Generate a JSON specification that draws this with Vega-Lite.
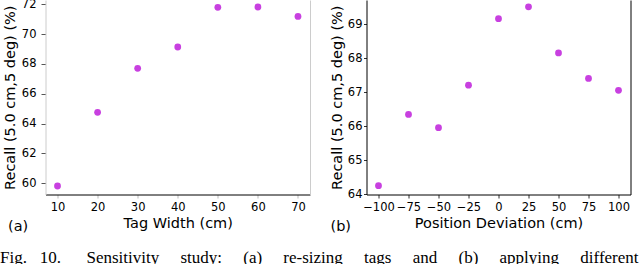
{
  "$schema": "https://vega.github.io/schema/vega-lite/v6.json",
  "autosize": {"type": "none"},
  "padding": {"left": 45.5, "top": 0, "right": 594.5, "bottom": 264},
  "background": "white",
  "title": {
    "text": "Fig.\u00a0\u00a0\u00a010.\u00a0\u00a0\u00a0\u00a0\u00a0\u00a0Sensitivity\u00a0\u00a0\u00a0\u00a0\u00a0study:\u00a0\u00a0\u00a0\u00a0\u00a0(a)\u00a0\u00a0\u00a0\u00a0\u00a0re-sizing\u00a0\u00a0\u00a0\u00a0\u00a0tags\u00a0\u00a0\u00a0\u00a0\u00a0and\u00a0\u00a0\u00a0\u00a0\u00a0(b)\u00a0\u00a0\u00a0\u00a0\u00a0applying\u00a0\u00a0\u00a0\u00a0\u00a0different",
    "orient": "bottom",
    "anchor": "start",
    "frame": "group",
    "dx": -45.5,
    "offset": 16,
    "font": "Liberation Serif",
    "fontSize": 17,
    "fontWeight": "normal",
    "color": "black"
  },
  "hconcat": [
    {
      "width": 264.5,
      "height": 194.5,
      "data": {"values": [
        {"w": 10, "r": 59.82},
        {"w": 20, "r": 64.76},
        {"w": 30, "r": 67.71},
        {"w": 40, "r": 69.14},
        {"w": 50, "r": 71.80},
        {"w": 60, "r": 71.82},
        {"w": 70, "r": 71.19}
      ]},
      "title": {"text": "(a)", "orient": "bottom", "anchor": "start", "frame": "group", "dx": -37.5, "offset": -10, "font": "DejaVu Sans", "fontSize": 14.5, "fontWeight": "normal", "color": "black"},
      "layer": [
        {
          "mark": {"type": "point", "filled": true, "size": 46, "color": "#c840e0", "opacity": 1},
          "encoding": {
            "x": {"field": "w", "type": "quantitative", "scale": {"domain": [7, 73], "nice": false, "zero": false},
              "axis": {"values": [10, 20, 30, 40, 50, 60, 70], "title": "Tag Width (cm)", "tickSize": 3.5, "tickColor": "#bbbbbb", "labelPadding": 3, "titlePadding": 4, "domainColor": "black"}},
            "y": {"field": "r", "type": "quantitative", "scale": {"domain": [59.25, 72.29], "nice": false, "zero": false},
              "axis": {"values": [60, 62, 64, 66, 68, 70, 72], "title": "Recall (5.0 cm,5 deg) (%)", "tickSize": 4.5, "tickColor": "#555555", "labelPadding": 5, "titlePadding": 3.5, "domainColor": "#cccccc"}}
          }
        },
        {
          "mark": {"type": "point", "opacity": 0},
          "encoding": {
            "y": {"field": "r", "type": "quantitative", "scale": {"domain": [59.25, 72.29], "nice": false, "zero": false},
              "axis": {"orient": "right", "labels": false, "ticks": false, "title": null, "domainColor": "#cccccc"}}
          }
        }
      ],
      "resolve": {"axis": {"y": "independent"}}
    },
    {
      "width": 264,
      "height": 194.5,
      "data": {"values": [
        {"d": -100, "r": 64.25},
        {"d": -75, "r": 66.35},
        {"d": -50, "r": 65.96},
        {"d": -25, "r": 67.21},
        {"d": 0, "r": 69.17},
        {"d": 25, "r": 69.52},
        {"d": 50, "r": 68.16},
        {"d": 75, "r": 67.41},
        {"d": 100, "r": 67.06}
      ]},
      "title": {"text": "(b)", "orient": "bottom", "anchor": "start", "frame": "group", "dx": -36, "offset": -10, "font": "DejaVu Sans", "fontSize": 14.5, "fontWeight": "normal", "color": "black"},
      "layer": [
        {
          "mark": {"type": "point", "filled": true, "size": 46, "color": "#c840e0", "opacity": 1},
          "encoding": {
            "x": {"field": "d", "type": "quantitative", "scale": {"domain": [-110, 110], "nice": false, "zero": false},
              "axis": {"values": [-100, -75, -50, -25, 0, 25, 50, 75, 100], "title": "Position Deviation (cm)", "tickSize": 3.5, "tickColor": "#333333", "labelPadding": 3, "titlePadding": 4, "domainColor": "black"}},
            "y": {"field": "r", "type": "quantitative", "scale": {"domain": [63.99, 69.72], "nice": false, "zero": false},
              "axis": {"values": [64, 65, 66, 67, 68, 69], "title": "Recall (5.0 cm,5 deg) (%)", "tickSize": 3, "tickColor": "#333333", "labelPadding": 1.5, "titlePadding": 3, "domainColor": "black"}}
          }
        },
        {
          "mark": {"type": "point", "opacity": 0},
          "encoding": {
            "y": {"field": "r", "type": "quantitative", "scale": {"domain": [63.99, 69.72], "nice": false, "zero": false},
              "axis": {"orient": "right", "labels": false, "ticks": false, "title": null, "domainColor": "black"}}
          }
        }
      ],
      "resolve": {"axis": {"y": "independent"}}
    }
  ],
  "spacing": 56,
  "bounds": "flush",
  "config": {
    "view": {"stroke": null},
    "axis": {
      "grid": false,
      "labelFont": "DejaVu Sans",
      "titleFont": "DejaVu Sans",
      "labelFontSize": 11.5,
      "titleFontSize": 14.5,
      "titleFontWeight": "normal",
      "labelColor": "black",
      "titleColor": "black",
      "tickWidth": 1,
      "domainWidth": 1
    }
  }
}
